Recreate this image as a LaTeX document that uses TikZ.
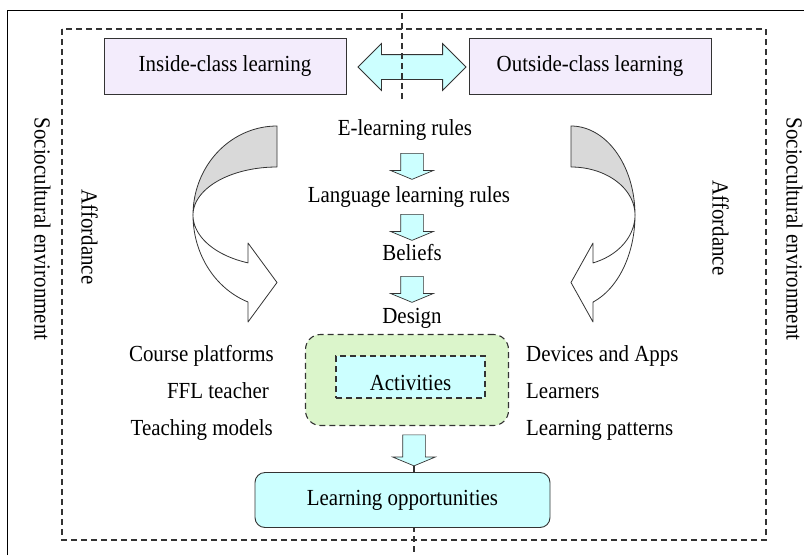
\documentclass[tikz,border=0pt]{standalone}
\usepackage{fontspec}
\setmainfont{Liberation Serif}[FakeStretch=0.91]
\usetikzlibrary{shapes.arrows,backgrounds}
\definecolor{lav}{HTML}{F3ECFC}
\definecolor{cyanl}{HTML}{CCFFFF}
\definecolor{greenl}{HTML}{DBF5CB}
\definecolor{grayb}{HTML}{D9D9D9}
\definecolor{edge}{HTML}{333333}
\begin{document}
\begin{tikzpicture}[x=1pt,y=-1pt,
  every node/.style={font=\fontsize{23}{27}\selectfont, inner sep=0pt},
  txt/.style={text height=15pt, text depth=4pt},
  classbox/.style={draw=edge, fill=lav, line width=0.9pt, minimum width=242pt, minimum height=56pt},
  dnarrow/.style={single arrow, draw=edge, fill=cyanl, rotate=-90, inner xsep=0pt, inner ysep=11pt,
    single arrow head extend=10pt, single arrow tip angle=135, minimum height=26pt, line width=0.7pt},
  dashline/.style={draw=edge, line width=1.1pt, dash pattern=on 6pt off 4pt},
  curvback/.style={draw=edge, fill=grayb, line width=0.8pt, line join=round},
  curvfront/.style={draw=edge, fill=white, line width=0.8pt, line join=round}]
\useasboundingbox (0,0) rectangle (804,555);
\begin{scope}[on background layer]
  \fill[white] (0,0) rectangle (804,555);
\end{scope}

% outer frames
\draw[black, line width=1pt] (7,555) -- (7,10) -- (804,10);
\draw[dashline] (62,29) rectangle (766,540);

% top boxes
\node[classbox] (inside) at (225,66) {Inside-class learning};
\node[classbox] (outside) at (590,66) {Outside-class learning};
\node[double arrow, draw=edge, fill=cyanl, line width=0.8pt, minimum height=108pt, inner xsep=0pt,
  inner ysep=12pt, double arrow head extend=11pt] (dbl) at (412,67) {};
\coordinate (vtop) at (402,13);
\coordinate (vbot) at (402,99);
\draw[dashline] (vtop) -- (vbot);

% side texts
\node[rotate=-90, txt] (socl) at (40,229) {Sociocultural environment};
\node[rotate=-90, txt] (socr) at (792,229) {Sociocultural environment};
\node[rotate=-90, txt] (affl) at (87,237) {Affordance};
\node[rotate=-90, txt] (affr) at (718,228) {Affordance};

% central chain
\node[txt] (elr) at (405,130) {E-learning rules};
\node[dnarrow] (a1) at (412,164) {};
\node[txt] (llr) at (409,197) {Language learning rules};
\node[dnarrow] (a2) at (412,225) {};
\node[txt] (bel) at (412,255) {Beliefs};
\node[dnarrow] (a3) at (412,287) {};
\node[txt] (des) at (412,318) {Design};

% activities
\node[draw=edge, dash pattern=on 6pt off 4pt, line width=1.1pt, fill=greenl, rounded corners=15pt,
  minimum width=203pt, minimum height=91pt] (grn) at (407,380) {};
\node[draw=edge, dash pattern=on 6pt off 4pt, line width=1.1pt, fill=cyanl,
  minimum width=149pt, minimum height=42pt, text height=26pt, text depth=0pt] (act) at (410.5,377) {Activities};

\node[dnarrow, minimum height=31pt] (a4) at (414,448) {};
\node[draw=edge, line width=0.9pt, fill=cyanl, rounded corners=10pt, minimum width=295pt,
  minimum height=55pt, txt] (lop) at (402.5,500) {Learning opportunities};
\coordinate (bend) at (414,555);
\begin{scope}[on background layer]
  \draw[dashline] (a4.tip) -- (bend);
\end{scope}

% lists
\node[txt, anchor=east] (cp) at (274,356) {Course platforms};
\node[txt, anchor=east] (ffl) at (269,393) {FFL teacher};
\node[txt, anchor=east] (tm) at (273,430) {Teaching models};
\node[txt, anchor=west] (da) at (526,356) {Devices and Apps};
\node[txt, anchor=west] (lrn) at (526,393) {Learners};
\node[txt, anchor=west] (lp) at (526,430) {Learning patterns};

% curved arrows (left)
\path[curvback] plot[domain=-90:-180, samples=40, variable=\t] ({277+84*cos(\t)},{215+89*sin(\t)})
  -- plot[domain=-180:-90, samples=40, variable=\t] ({277+84*cos(\t)},{215+48*sin(\t)}) -- cycle;
\path[curvfront] plot[domain=180:110.2, samples=40, variable=\t] ({277+84*cos(\t)},{215+92.7*sin(\t)})
  -- (248,322) -- (277,282.5) -- (248,243) -- (248,263)
  -- plot[domain=110.2:180, samples=40, variable=\t] ({277+84*cos(\t)},{215+51*sin(\t)}) -- cycle;
% curved arrows (right)
\path[curvback] plot[domain=-90:0, samples=40, variable=\t] ({571+64*cos(\t)},{215+89*sin(\t)})
  -- plot[domain=0:-90, samples=40, variable=\t] ({571+64*cos(\t)},{215+48*sin(\t)}) -- cycle;
\path[curvfront] plot[domain=0:69.8, samples=40, variable=\t] ({571+64*cos(\t)},{215+92.7*sin(\t)})
  -- (593,322) -- (571,282.5) -- (593,243) -- (593,263)
  -- plot[domain=69.8:0, samples=40, variable=\t] ({571+64*cos(\t)},{215+51*sin(\t)}) -- cycle;
\end{tikzpicture}
\end{document}
